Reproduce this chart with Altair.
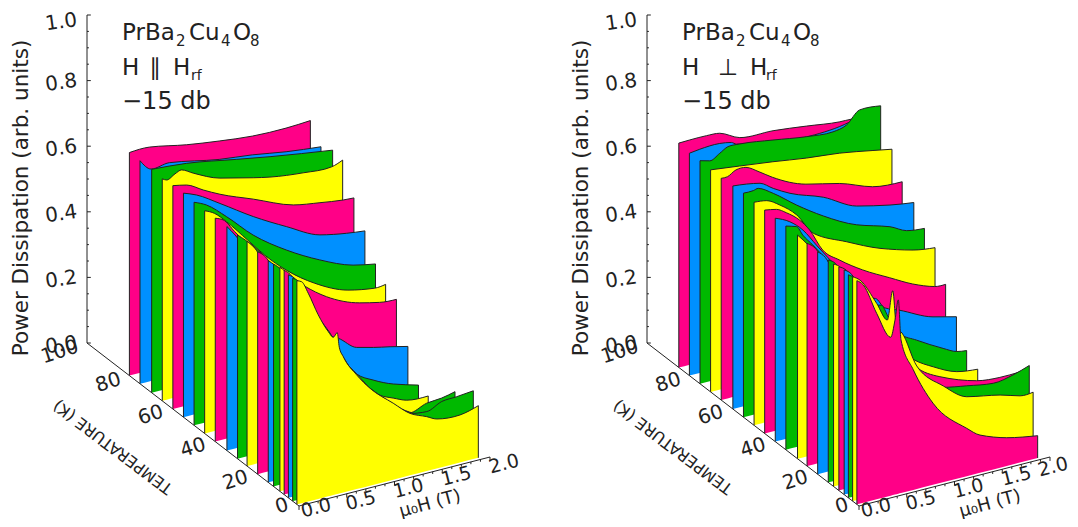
import altair as alt
import pandas as pd

COLORS = ["#FF0087", "#0090FF", "#00B900", "#FFFF00"]
FONT = "DejaVu Sans"
INK = "#222222"
W, H = 1062, 511
RIGHT_OFFSET = 560

# ---------- parallel field configuration (left panel) ----------
left_temps = [80, 75, 69.5, 64.5, 59.5, 54.5, 49.5, 44.5, 39.5, 34, 29, 24.5, 19.5, 14.5, 12, 9, 7, 5, 3, 1]
left_fields = [
    [0, .21, .6, .94, 1.29, 1.64, 1.895],
    [0, .115, .307, .83, 1.176, 1.53, 1.895],
    [0, .366, .89, 1.24, 1.895],
    [0, .046, .133, .203, .325, .604, .953, 1.128, 1.476, 1.774, 1.889],
    [0, .145, .318, .493, .842, 1.261, 1.54, 1.784, 1.896],
    [0, .138, .382, .731, 1.081, 1.429, 1.709, 1.9],
    [0, .13, .339, .618, .968, 1.316, 1.665, 1.9],
    [0, .105, .227, .45, .628, .855, 1.152, 1.5, 1.78, 1.895],
    [0, .082, .204, .466, .728, .937, 1.164, 1.513, 1.72, 1.897],
    [0, .085, .347, .765, 1.1, 1.167, 1.359, 1.533, 1.708, 1.895],
    [0, .08, .34, .76, 1.073, 1.248, 1.419, 1.631, 1.895],
    [0, .11, .224, .397, .763, 1.078, 1.392, 1.53, 1.671, 1.897],
    [0, .108, .224, .329, .486, .626, .765, 1.009, 1.184, 1.359, 1.464, 1.708, 1.9],
    [0, .07, .224, .329, .486, .626, .765, 1.009, 1.184, 1.359, 1.464, 1.708, 1.9],
    [0, .088, .276, .59, .863, 1.114, 1.418, 1.603, 1.76, 1.9],
    [0, .106, .224, .329, .486, .626, .765, 1.009, 1.184, 1.359, 1.464, 1.708, 1.9],
    [0, .103, .224, .329, .486, .626, .765, 1.009, 1.184, 1.359, 1.464, 1.708, 1.9],
    [0, .09, .224, .329, .486, .626, .765, 1.009, 1.184, 1.359, 1.464, 1.708, 1.9],
    [0, .057, .13, .266, .423, .528, .671, .81, 1.051, 1.219, 1.404, 1.561, 1.718, 1.892],
    [0, .05, .119, .224, .329, .381, .423, .444, .486, .626, .765, 1.009, 1.184, 1.359, 1.464, 1.708, 1.9],
]
left_power = [
    [.680, .681, .659, .645, .634, .632, .636],
    [.680, .646, .651, .622, .610, .593, .581],
    [.681, .672, .645, .627, .598],
    [.677, .670, .682, .689, .670, .634, .609, .598, .585, .581, .593],
    [.681, .672, .644, .618, .577, .528, .514, .504, .502],
    [.683, .667, .623, .557, .500, .449, .433, .426],
    [.680, .662, .611, .534, .462, .406, .364, .350],
    [.679, .663, .629, .556, .497, .434, .372, .325, .310, .313],
    [.681, .670, .625, .531, .463, .404, .355, .310, .296, .292],
    [.683, .651, .519, .371, .265, .255, .213, .200, .189, .176],
    [.682, .661, .574, .372, .236, .165, .134, .106, .083],
    [.685, .644, .561, .465, .330, .221, .112, .093, .076, .072],
    [.678, .645, .561, .502, .414, .348, .297, .220, .160, .115, .090, .040, .020],
    [.676, .655, .561, .502, .414, .348, .297, .220, .165, .125, .100, .080, .090],
    [.678, .653, .563, .417, .272, .189, .118, .134, .138, .147],
    [.683, .645, .561, .502, .414, .348, .297, .225, .175, .140, .125, .125, .130],
    [.684, .650, .561, .502, .414, .348, .297, .225, .180, .145, .135, .135, .145],
    [.680, .655, .561, .502, .414, .348, .297, .225, .180, .150, .140, .150, .160],
    [.679, .667, .628, .544, .466, .397, .331, .281, .218, .176, .168, .187, .190, .195],
    [.682, .675, .635, .561, .502, .481, .492, .446, .414, .348, .297, .233, .189, .166, .151, .145, .159],
]

# ---------- perpendicular field configuration (right panel) ----------
right_temps = [85, 80, 75, 70, 65, 59.5, 54.5, 49.5, 44.5, 39.5, 34.5, 29, 24.5, 19.5, 14.5, 12, 9.5, 7, 5, 3, 1]
right_fields = [
    [0, .115, .29, .429, .639, .987, 1.337, 1.686, 1.808, 1.895],
    [0, .108, .317, .44, .492, .84, 1.26, 1.68, 1.89],
    [0, .102, .206, .293, .416, .764, 1.114, 1.393, 1.533, 1.672, 1.892],
    [0, .304, .652, 1.002, 1.351, 1.70, 1.899],
    [0, .066, .154, .259, .398, .537, .887, 1.236, 1.584, 1.895],
    [0, .145, .284, .423, .598, .947, 1.296, 1.645, 1.895],
    [0, .103, .155, .312, .557, .836, 1.185, 1.534, 1.709, 1.895],
    [0, .133, .272, .447, .621, .971, 1.319, 1.665, 1.895],
    [0, .123, .227, .366, .471, .607, .785, 1.026, 1.309, 1.55, 1.78, 1.895],
    [0, .152, .291, .431, .675, .99, 1.05, 1.147, 1.296, 1.652, 1.897],
    [0, .112, .178, .283, .565, .88, 1.0, 1.068, 1.194, 1.369, 1.647, 1.788, 1.893],
    [0, .113, .236, .55, .864, 1.213, 1.422, 1.667, 1.887],
    [0, .114, .226, .415, .54, .70, .80, 1.06, 1.44, 1.69, 1.895],
    [0, .08, .226, .415, .54, .70, .80, 1.06, 1.44, 1.69, 1.895],
    [0, .08, .226, .415, .54, .70, .80, 1.06, 1.44, 1.69, 1.895],
    [0, .08, .226, .415, .54, .70, .80, 1.06, 1.44, 1.69, 1.895],
    [0, .08, .226, .415, .54, .70, .796, 1.058, 1.442, 1.686, 1.895],
    [0, .08, .226, .415, .54, .75, .99, 1.24, 1.52, 1.72, 1.89],
    [0, .08, .226, .415, .54, .75, .99, 1.239, 1.517, 1.724, 1.894],
    [0, .077, .252, .363, .42, .46, .517, .671, .95, 1.195, 1.544, 1.753, 1.89],
    [0, .067, .207, .354, .399, .434, .462, .591, .797, 1.15, 1.289, 1.569, 1.893],
]
right_power = [
    [.684, .685, .685, .682, .653, .648, .636, .623, .622, .619],
    [.678, .682, .684, .678, .669, .646, .636, .648, .668],
    [.680, .672, .687, .701, .700, .686, .670, .664, .674, .710, .706],
    [.677, .666, .653, .638, .627, .609, .598],
    [.676, .676, .690, .690, .666, .639, .592, .568, .532, .524],
    [.680, .675, .667, .641, .613, .575, .522, .499, .488],
    [.683, .683, .686, .659, .605, .551, .498, .466, .441, .434],
    [.680, .675, .651, .608, .539, .487, .441, .410, .400],
    [.681, .674, .656, .623, .585, .514, .470, .422, .377, .340, .315, .313],
    [.681, .659, .623, .567, .473, .364, .358, .322, .304, .257, .239],
    [.682, .672, .641, .603, .491, .375, .366, .328, .264, .232, .186, .166, .161],
    [.682, .643, .594, .458, .328, .212, .174, .141, .132],
    [.679, .645, .560, .470, .410, .335, .300, .220, .150, .130, .120],
    [.678, .655, .560, .480, .420, .345, .300, .230, .170, .155, .150],
    [.678, .660, .565, .490, .430, .360, .300, .240, .185, .170, .165],
    [.678, .660, .565, .490, .430, .365, .310, .250, .200, .190, .185],
    [.682, .665, .570, .500, .440, .375, .320, .268, .227, .219, .220],
    [.685, .665, .565, .490, .425, .310, .235, .215, .200, .205, .220],
    [.680, .660, .560, .490, .430, .320, .263, .249, .236, .246, .262],
    [.684, .668, .584, .525, .610, .493, .474, .362, .280, .229, .208, .190, .191],
    [.682, .664, .567, .483, .532, .591, .467, .366, .249, .146, .115, .086, .068],
]

# ---------- axes and labels ----------
power_ticks = [0, .05, .1, .15, .2, .25, .3, .35, .4, .45, .5, .55, .6, .65, .7, .75, .8, .85, .9, .95, 1]
power_labels = [0, .2, .4, .6, .8, 1]
field_ticks = [0, .1, .2, .3, .4, .5, .6, .7, .8, .9, 1, 1.1, 1.2, 1.3, 1.4, 1.5, 1.6, 1.7, 1.8, 1.9, 2]
field_labels = [0, .5, 1, 1.5, 2]
temp_labels = [100, 80, 60, 40, 20, 0]


def sy(t, b, p):
    return 498 - 1.63 * t - 24.5 * b - 328 * p


def enc(**extra):
    return dict(
        x=alt.X("x:Q", scale=alt.Scale(domain=[0, W], nice=False), axis=None),
        y=alt.Y("y:Q", scale=alt.Scale(domain=[H, 0], nice=False), axis=None),
        **extra,
    )


def rules(rows):
    return alt.Chart(pd.DataFrame(rows)).mark_rule(color=INK, strokeWidth=1).encode(
        x2="x2:Q", y2="y2:Q", **enc()
    )


def text(label, x, y, size, angle=0, align="left", baseline="alphabetic"):
    df = pd.DataFrame({"x": [x], "y": [y], "label": [label]})
    return alt.Chart(df).mark_text(
        font=FONT, fontSize=size, angle=angle, align=align, baseline=baseline, color=INK
    ).encode(text="label:N", **enc())


def panel(ox, temps, fields, power, symbol, sym_x, h2_x, rf_x):
    def sx(t, b):
        return ox + 291 - 2.12 * t + 95.5 * b

    layers = [rules([
        {"x": sx(100, 0), "y": sy(100, 0, 0), "x2": sx(100, 0), "y2": sy(100, 0, 1)},
        {"x": sx(100, 0), "y": sy(100, 0, 0), "x2": sx(0, 0), "y2": sy(0, 0, 0)},
        {"x": sx(0, 0), "y": sy(0, 0, 0), "x2": sx(0, 2), "y2": sy(0, 2, 0)},
    ])]
    tick_rows = []
    for p in power_ticks:
        d = .04 if round(p * 100) % 20 == 0 else .02
        tick_rows.append({"x": sx(100, 0), "y": sy(100, 0, p), "x2": sx(100, d), "y2": sy(100, 0, p)})
    for b in field_ticks:
        d = .012 if round(b * 10) % 5 == 0 else .007
        tick_rows.append({"x": sx(0, b), "y": sy(0, b, 0), "x2": sx(0, b), "y2": sy(0, b, -d)})
    layers.append(rules(tick_rows))
    for i, (t, bs, ps) in enumerate(zip(temps, fields, power)):
        color = COLORS[i % 4]
        area = pd.DataFrame({
            "x": [sx(t, b) for b in bs],
            "y": [sy(t, b, p) for b, p in zip(bs, ps)],
            "y0": [sy(t, b, 0) for b in bs],
        })
        edges = [
            {"x": sx(t, bs[0]), "y": sy(t, bs[0], 0), "x2": sx(t, bs[0]), "y2": sy(t, bs[0], ps[0])},
            {"x": sx(t, bs[-1]), "y": sy(t, bs[-1], 0), "x2": sx(t, bs[-1]), "y2": sy(t, bs[-1], ps[-1])},
        ]
        layers.append(alt.Chart(area).mark_area(color=color, opacity=1, interpolate="monotone").encode(y2="y0:Q", **enc()))
        layers.append(alt.Chart(area).mark_line(color=INK, strokeWidth=1, interpolate="monotone").encode(**enc()))
        layers.append(rules(edges))
    for p in power_labels:
        nudge = 5 if p == 1 else 0
        layers.append(text(f"{p:.1f}", sx(100, 0) - 10, sy(100, 0, p) + nudge, 20, 352, "right", "middle"))
    for t in temp_labels:
        dx, dy = (-11, -2) if t == 0 else (-9, 3)
        layers.append(text(str(t), sx(t, 0) + dx, sy(t, 0, 0) + dy, 20, 342, "right", "middle"))
    for b in field_labels:
        dx, dy = 14, 7
        if b == 0:            # kept above the page's lower edge
            dx, dy = 17, 2
        if b == 2 and ox:     # kept inside the page's right edge
            dx, dy = 3, 10
        layers.append(text(f"{b:.1f}", sx(0, b) + dx, sy(0, b, 0) + dy, 19, 346, "center", "middle"))
    layers.append(text("Power Dissipation (arb. units)", ox + 20, 190, 21.5, 270, "center"))
    layers.append(text("TEMPERATURE (K)", ox + 105, 439, 16, 217, "center", "middle"))
    layers.append(text("μ₀H (T)", ox + 422, 496, 18, 345, "center", "middle"))
    for piece, px, py, size in [("PrBa", 114, 32, 23), ("2", 168, 38, 15), ("Cu", 181, 32, 23),
                                ("4", 213, 38, 15), ("O", 225, 32, 23), ("8", 242, 38, 15)]:
        layers.append(text(piece, ox + px, py, size))
    layers.append(text("H", ox + 114, 67, 23))
    layers.append(text(symbol, ox + sym_x, 67, 23, 0, "center"))
    layers.append(text("H", ox + h2_x, 67, 23))
    layers.append(text("rf", ox + rf_x, 72, 14))
    layers.append(text("−15 db", ox + 114, 101, 24))
    return layers


layers = panel(0, left_temps, left_fields, left_power, "∥", 147, 165, 183)
layers += panel(RIGHT_OFFSET, right_temps, right_fields, right_power, "⊥", 160, 182, 198)

chart = alt.layer(*layers).properties(
    width=W, height=H, padding=0, autosize=alt.AutoSizeParams(type="none")
).configure_view(stroke=None)
chart.save("out.html", embed_options={"renderer": "svg", "actions": False})
